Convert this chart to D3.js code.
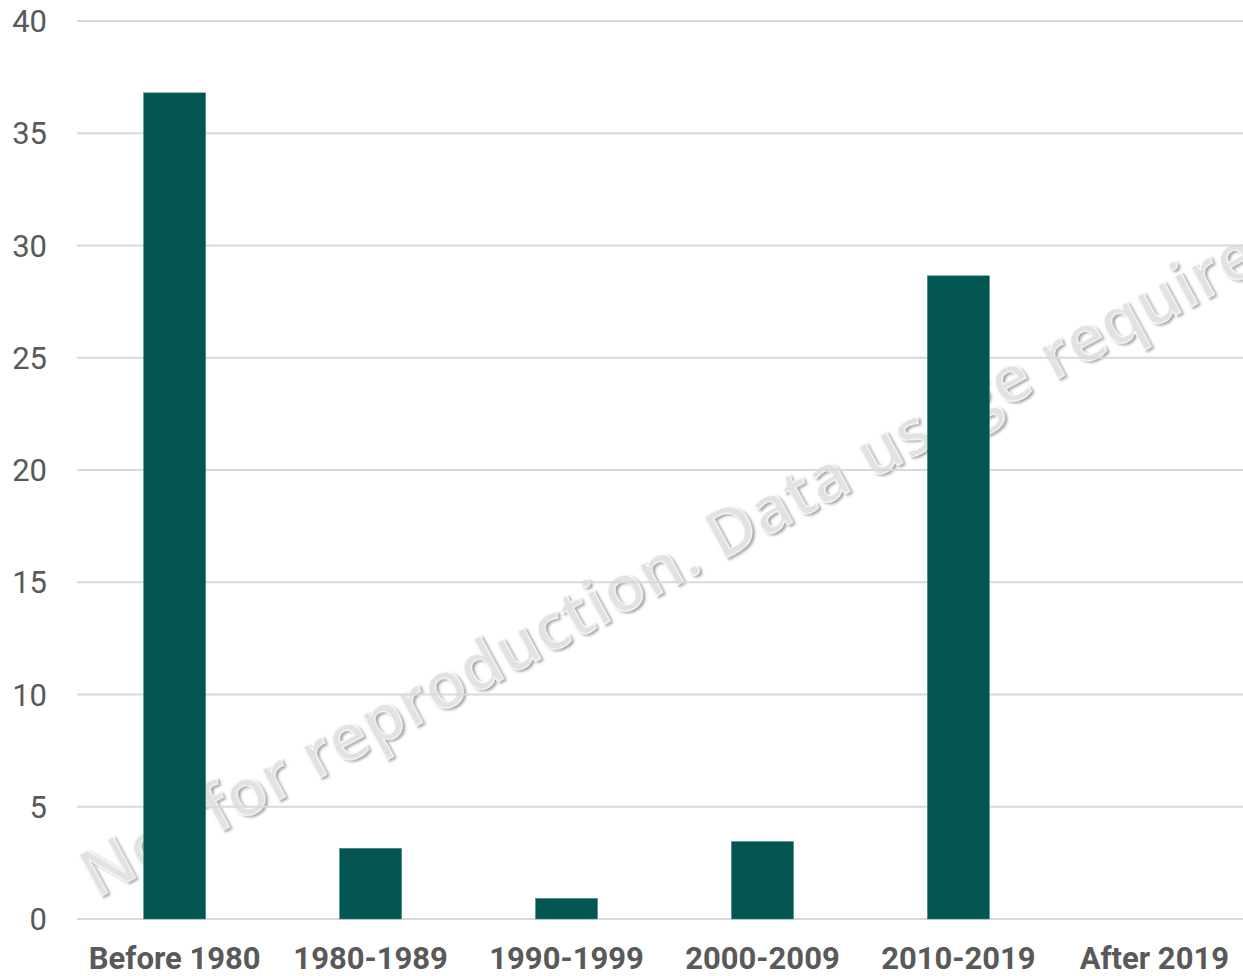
<!DOCTYPE html>
<html>
<head>
<meta charset="utf-8">
<script src="https://cdn.jsdelivr.net/npm/d3@7"></script>
<style>
  body { margin: 0; background: #fff; }
  svg { display: block; }
</style>
</head>
<body>
<svg id="chart" width="1243" height="976"></svg>
<script>
// data
let periodos = ["Before 1980","1980-1989","1990-1999","2000-2009","2010-2019","After 2019"];
let valores = [36.8, 3.15, 0.92, 3.45, 28.65, 0];
let yticks = [0,5,10,15,20,25,30,35,40];
let marca = "Not for reproduction. Data usage requires permission.";

let width = 1243, height = 976;
let margin = {left:77, top:21, bottom:57};
// plot area runs a bit past the right edge, as in the original
let plotRight = 1252;
let svg = d3.select("#chart");

let scx = d3.scaleBand(periodos,[margin.left,plotRight]).paddingInner(0.683).paddingOuter(0.34);
let scy = d3.scaleLinear([0,40],[height - margin.bottom,margin.top]);

// watermark (under gridlines and bars)
let defs = svg.append("defs");
let filtro = defs.append("filter").attr("id","sombra").attr("x","-5%").attr("y","-20%").attr("width","110%").attr("height","140%");
filtro.append("feDropShadow").attr("dx",1.5).attr("dy",2.5).attr("stdDeviation",1.3).attr("flood-color","#8c8c8c").attr("flood-opacity",0.8);

svg.append("text")
    .attr("transform","translate(96,899) rotate(-28.4)")
    .attr("font-family","Open Sans")
    .attr("font-weight",600)
    .attr("font-size",65)
    .attr("letter-spacing",1)
    .attr("fill","#e2e2e2")
    .attr("stroke","#ffffff")
    .attr("stroke-width",1)
    .attr("filter","url(#sombra)")
    .text(marca);

// gridlines
svg.append("g")
    .selectAll("line")
    .data(yticks)
    .join("line")
    .attr("x1",margin.left)
    .attr("x2",width)
    .attr("y1",d => scy(d))
    .attr("y2",d => scy(d))
    .attr("stroke","#d9d9d9")
    .attr("stroke-width",2);

// y labels
svg.append("g")
    .selectAll("text")
    .data(yticks)
    .join("text")
    .attr("x",47)
    .attr("y",d => scy(d))
    .attr("dy","0.36em")
    .attr("text-anchor","end")
    .attr("font-family","Roboto")
    .attr("font-size",31)
    .attr("fill","#595959")
    .text(d => d);

// bars
svg.append("g")
    .selectAll("rect")
    .data(valores)
    .join("rect")
    .attr("x",(d,i) => scx(periodos[i]))
    .attr("width",scx.bandwidth())
    .attr("y",d => scy(d))
    .attr("height",d => scy(0) - scy(d))
    .attr("fill","#025551")
    .attr("stroke","#4f8f8a")
    .attr("stroke-width",d => d > 0 ? 0.6 : 0);

// x labels
let xaxis = d3.axisBottom(scx).tickSize(0).tickPadding(0);
let gx = svg.append("g")
    .attr("transform",`translate(0,${scy(0)})`)
    .call(xaxis);
gx.select(".domain").remove();
gx.selectAll("text")
    .attr("y",39)
    .attr("dy","0.36em")
    .attr("font-family","Roboto")
    .attr("font-weight","bold")
    .attr("font-size",31)
    .attr("fill","#595959");
</script>
</body>
</html>
